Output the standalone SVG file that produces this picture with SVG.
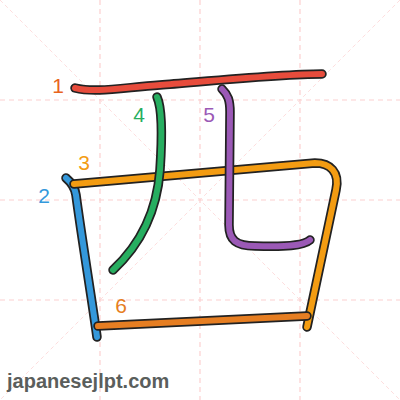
<svg xmlns="http://www.w3.org/2000/svg" width="400" height="400" viewBox="0 0 400 400">
<style>
.grid{stroke:#fcd0d0;stroke-width:1.2;stroke-dasharray:5,4;fill:none}
.diag{stroke:#fcd6d6;stroke-width:0.8;stroke-dasharray:4,3;fill:none}
.o{fill:none;stroke:#222;stroke-width:9.5;stroke-linecap:round;stroke-linejoin:round}
.c{fill:none;stroke-width:6;stroke-linecap:round;stroke-linejoin:round}
.n{font-family:"Liberation Sans",Arial,sans-serif;font-size:21px;text-anchor:middle}
</style>
<rect width="400" height="400" fill="#fff"/>
<g id="grid">
<path class="grid" d="M100,0V400M200,0V400M300,0V400M0,100H400M0,200H400M0,300H400"/>
<path class="diag" d="M0,0L400,400M400,0L0,400"/>
</g>
<g id="strokes">
<g id="s1"><path id="p1" class="o" d="M75,88 C95,93 120,88 160,85 S280,74 322,74"/><path class="c" stroke="#e74c3c" d="M75,88 C95,93 120,88 160,85 S280,74 322,74"/></g>
<g id="s2"><path class="o" d="M66,178 C72,183 75,188 76,195 C82,240 92,300 97,337"/><path class="c" stroke="#3498db" d="M66,178 C72,183 75,188 76,195 C82,240 92,300 97,337"/></g>
<g id="s3"><path class="o" d="M74,184 L315,163 C330,163 340,172 336,190 L307,327"/><path class="c" stroke="#f39c12" d="M74,184 L315,163 C330,163 340,172 336,190 L307,327"/></g>
<g id="s4"><path class="o" d="M157,97 C163,110 162,140 160,170 C157,210 142,243 113,270"/><path class="c" stroke="#27ae60" d="M157,97 C163,110 162,140 160,170 C157,210 142,243 113,270"/></g>
<g id="s5"><path class="o" d="M222,89 C228,95 230,100 230,112 L229,225 C229,240 236,246 255,246 C285,247 303,246 310,240"/><path class="c" stroke="#9b59b6" d="M222,89 C228,95 230,100 230,112 L229,225 C229,240 236,246 255,246 C285,247 303,246 310,240"/></g>
<g id="s6"><path class="o" d="M98,326 L307,316"/><path class="c" stroke="#e67e22" d="M98,326 L307,316"/></g>
</g>
<g id="labels">
<text class="n" x="58" y="93" fill="#e8641e">1</text>
<text class="n" x="44" y="203" fill="#3498db">2</text>
<text class="n" x="84" y="170" fill="#f39c12">3</text>
<text class="n" x="139" y="122" fill="#27ae60">4</text>
<text class="n" x="209" y="122" fill="#9b59b6">5</text>
<text class="n" x="121" y="313" fill="#e67e22">6</text>
</g>
<text x="7" y="388" font-family="'Liberation Sans',Arial,sans-serif" font-size="20" font-weight="bold" fill="#5a5e5c">japanesejlpt.com</text>
</svg>
